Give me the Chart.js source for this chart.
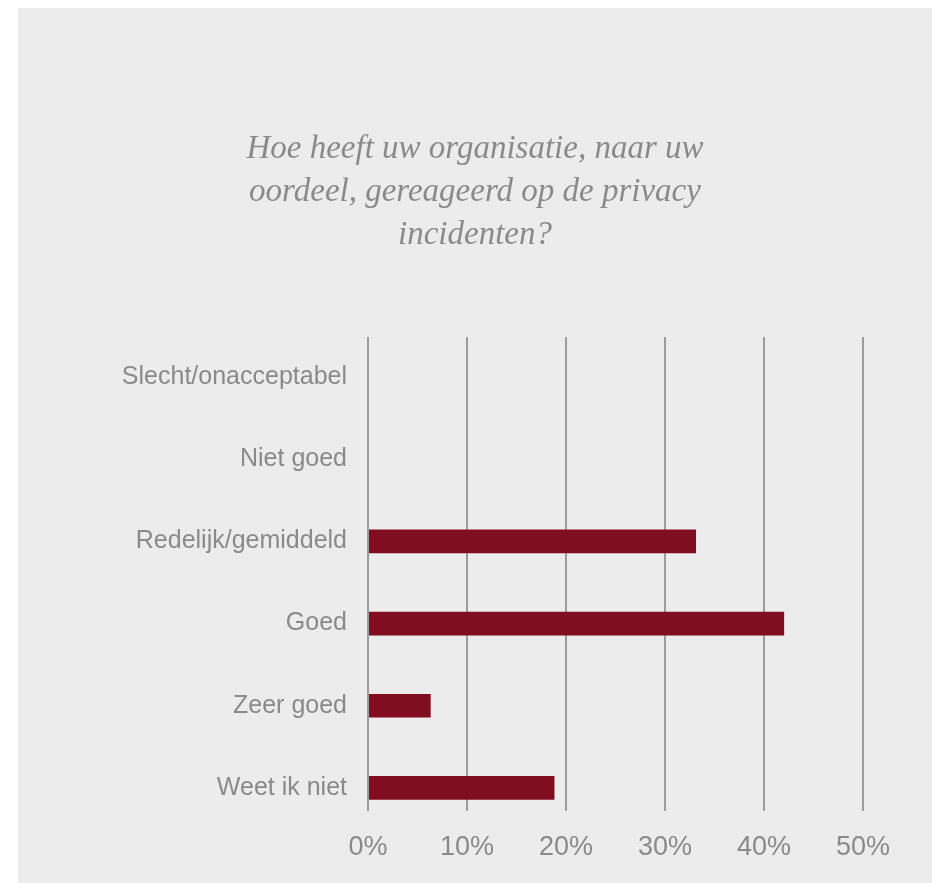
<!DOCTYPE html>
<html>
<head>
<meta charset="utf-8">
<script src="https://cdn.jsdelivr.net/npm/chart.js@4/dist/chart.umd.min.js"></script>
<style>
    html, body { margin: 0; padding: 0; background: #ffffff; }
    #panel {
        position: absolute;
        left: 18px;
        top: 8px;
        width: 914px;
        height: 875px;
        background: #ebeceb;
    }
</style>
</head>
<body>
<div id="panel"><canvas id="reactionChart" width="914" height="875"></canvas></div>
<script>
// Survey answers and share of respondents (%)
const categories = [
    'Slecht/onacceptabel',
    'Niet goed',
    'Redelijk/gemiddeld',
    'Goed',
    'Zeer goed',
    'Weet ik niet'
];
const percentages = [0, 0, 33.1, 42.0, 6.3, 18.8];
const tickValues = [0, 10, 20, 30, 40, 50];
const titleLines = [
    'Hoe heeft uw organisatie, naar uw',
    'oordeel, gereageerd op de privacy',
    'incidenten?'
];

const labelGrey = '#8a8a8a';
const gridGrey = '#9c9c9c';

function drawGridLine(chart, value) {
    const { ctx, chartArea, scales } = chart;
    const x = Math.round(scales.x.getPixelForValue(value));
    ctx.save();
    ctx.strokeStyle = gridGrey;
    ctx.lineWidth = 2;
    ctx.beginPath();
    ctx.moveTo(x, chartArea.top + 1);
    ctx.lineTo(x, chartArea.bottom - 18);
    ctx.stroke();
    ctx.restore();
}

// Vertical grid lines behind the bars, stopping a bit above the last band;
// the 0% line is drawn again on top so it stays visible
const gridPlugin = {
    id: 'valueGrid',
    beforeDatasetsDraw(chart) {
        tickValues.forEach(v => drawGridLine(chart, v));
    },
    afterDatasetsDraw(chart) {
        drawGridLine(chart, tickValues[0]);
    }
};

const ctx = document.getElementById('reactionChart').getContext('2d');
new Chart(ctx, {
    type: 'bar',
    data: {
        labels: categories,
        datasets: [{
            data: percentages,
            backgroundColor: '#800d20',
            borderWidth: 0,
            barThickness: 23
        }]
    },
    options: {
        indexAxis: 'y',
        responsive: false,
        animation: false,
        layout: {
            padding: { left: 0, right: 0, top: 0, bottom: 14 }
        },
        plugins: {
            legend: { display: false },
            tooltip: { enabled: false },
            title: {
                display: true,
                text: titleLines,
                color: labelGrey,
                font: {
                    family: '"Liberation Serif", "DejaVu Serif", serif',
                    style: 'italic',
                    size: 33,
                    weight: 'normal',
                    lineHeight: 1.303
                },
                padding: { top: 120, bottom: 79 }
            }
        },
        scales: {
            x: {
                min: 0,
                max: 50,
                afterBuildTicks(scale) {
                    scale.ticks = tickValues.map(v => ({ value: v }));
                },
                afterFit(scale) {
                    scale.height = 40;
                },
                grid: { display: false, drawTicks: false },
                border: { display: false },
                ticks: {
                    color: labelGrey,
                    padding: 2,
                    font: { family: '"Liberation Sans", Arial, sans-serif', size: 27 },
                    callback: value => value + '%'
                }
            },
            y: {
                afterFit(scale) {
                    scale.width = 350;
                },
                grid: { display: false, drawTicks: false },
                border: { display: false },
                ticks: {
                    color: labelGrey,
                    padding: 21,
                    font: { family: '"Liberation Sans", Arial, sans-serif', size: 25 }
                }
            },
            // empty right-hand margin so the title stays centred on the panel
            yRight: {
                type: 'linear',
                position: 'right',
                afterFit(scale) {
                    scale.width = 69;
                },
                grid: { display: false, drawTicks: false },
                border: { display: false },
                ticks: { display: false }
            }
        }
    },
    plugins: [gridPlugin]
});
</script>
</body>
</html>
